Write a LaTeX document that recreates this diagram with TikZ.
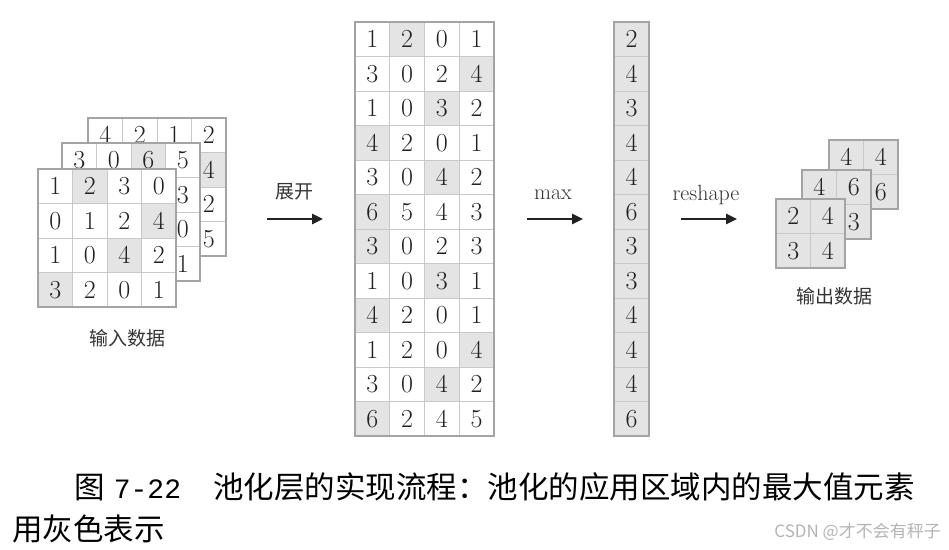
\documentclass[tikz,border=0pt]{standalone}
\usepackage{fontspec}
\newfontfamily\cjk{Noto Sans CJK SC}
\newfontfamily\capmono{Liberation Mono}
\usetikzlibrary{arrows.meta}
\definecolor{linegray}{HTML}{C8C8C8}
\definecolor{bordergray}{HTML}{A4A4A4}
\definecolor{hlgray}{HTML}{E4E4E4}
\definecolor{numcol}{HTML}{222222}
\definecolor{arrowcol}{HTML}{222222}
\definecolor{markgray}{HTML}{B4B4B4}
\definecolor{labcol}{HTML}{333333}
\newcommand\cellfont{\fontsize{26}{26}\selectfont}
\newcommand\drawgrid[5]{% #1 name, #2 x0, #3 y0, #4 last cell, #5 list r/c/v/fill
  \foreach \rw/\col/\v/\ff in {#5} {
    \node[cellbox,fill=\ff] (#1-\rw-\col) at ({#2+(\col-1)*34.5},{#3+(\rw-1)*34.5}) {\v};
  }
  \draw[gridborder] (#1-1-1.north west) rectangle (#1-#4.south east);
}
\begin{document}
\begin{tikzpicture}[x=1pt,y=-1pt,
  cellbox/.style={draw=linegray, line width=0.8pt, minimum width=34.5pt, minimum height=34.5pt,
    inner sep=0pt, outer sep=0pt, anchor=north west, font=\cellfont, text=numcol},
  gridborder/.style={draw=bordergray, line width=1.1pt},
  lab/.style={font=\cjk\fontsize{19}{19}\selectfont, text=labcol},
  arlab/.style={font=\fontsize{22}{22}\selectfont, text=labcol, anchor=base},
  bigarrow/.style={draw=arrowcol, line width=2.6pt, -{Triangle[length=11pt,width=10pt]}},
  captext/.style={font=\cjk\fontsize{30.5}{30.5}\selectfont, text=black, anchor=base west, inner sep=0pt}
]
\useasboundingbox (0,0) rectangle (949,549);

% ---------- input data (three stacked 4x4 grids) ----------
\drawgrid{inC}{88}{118}{4-4}{1/1/4/white,1/2/2/white,1/3/1/white,1/4/2/white,
  2/1/{}/white,2/2/{}/white,2/3/{}/white,2/4/4/hlgray,
  3/1/{}/white,3/2/{}/white,3/3/{}/white,3/4/2/white,
  4/1/{}/white,4/2/{}/white,4/3/{}/white,4/4/5/white}
\drawgrid{inB}{62}{143}{4-4}{1/1/3/white,1/2/0/white,1/3/6/hlgray,1/4/5/white,
  2/1/{}/white,2/2/{}/white,2/3/{}/white,2/4/3/white,
  3/1/{}/white,3/2/{}/white,3/3/{}/white,3/4/0/white,
  4/1/{}/white,4/2/{}/white,4/3/{}/white,4/4/1/white}
\drawgrid{inA}{38}{169}{4-4}{1/1/1/white,1/2/2/hlgray,1/3/3/white,1/4/0/white,
  2/1/0/white,2/2/1/white,2/3/2/white,2/4/4/hlgray,
  3/1/1/white,3/2/0/white,3/3/4/hlgray,3/4/2/white,
  4/1/3/hlgray,4/2/2/white,4/3/0/white,4/4/1/white}
\node[lab] (inlab) at (127,338) {输入数据};

% ---------- arrow: unfold ----------
\coordinate (a1s) at (267,219);
\coordinate (a1e) at (323,219);
\draw[bigarrow] (a1s) -- (a1e);
\node[lab, anchor=base] (l1) at (294,198) {展开};

% ---------- unfolded matrix 12x4 ----------
\foreach \rw/\va/\vb/\vc/\vd/\h in {1/1/2/0/1/2, 2/3/0/2/4/4, 3/1/0/3/2/3, 4/4/2/0/1/1,
    5/3/0/4/2/3, 6/6/5/4/3/1, 7/3/0/2/3/1, 8/1/0/3/1/3, 9/4/2/0/1/1, 10/1/2/0/4/4,
    11/3/0/4/2/3, 12/6/2/4/5/1} {
  \foreach \v [count=\col] in {\va,\vb,\vc,\vd} {
    \ifnum\col=\h\relax\def\ff{hlgray}\else\def\ff{white}\fi
    \node[cellbox, fill=\ff, minimum width=34.75pt] (m-\rw-\col) at ({355+(\col-1)*34.75},{22+(\rw-1)*34.5}) {\v};
  }
}
\draw[gridborder] (m-1-1.north west) rectangle (m-12-4.south east);

% ---------- arrow: max ----------
\coordinate (a2s) at (527,219);
\coordinate (a2e) at (583,219);
\draw[bigarrow] (a2s) -- (a2e);
\node[arlab] (l2) at (553,199) {max};

% ---------- max column ----------
\foreach \rw/\v in {1/2,2/4,3/3,4/4,5/4,6/6,7/3,8/3,9/4,10/4,11/4,12/6} {
  \node[cellbox, fill=hlgray, minimum width=35pt] (c-\rw) at (614,{22+(\rw-1)*34.5}) {\v};
}
\draw[gridborder] (c-1.north west) rectangle (c-12.south east);

% ---------- arrow: reshape ----------
\coordinate (a3s) at (681,219);
\coordinate (a3e) at (737,219);
\draw[bigarrow] (a3s) -- (a3e);
\node[arlab] (l3) at (706,200) {reshape};

% ---------- output data (three stacked 2x2 grids) ----------
\drawgrid{outC}{829}{140}{2-2}{1/1/4/hlgray,1/2/4/hlgray,2/1/{}/hlgray,2/2/6/hlgray}
\drawgrid{outB}{802}{170}{2-2}{1/1/4/hlgray,1/2/6/hlgray,2/1/{}/hlgray,2/2/3/hlgray}
\drawgrid{outA}{776}{199}{2-2}{1/1/2/hlgray,1/2/4/hlgray,2/1/3/hlgray,2/2/4/hlgray}
\node[lab] (outlab) at (834,296) {输出数据};

% ---------- caption ----------
\node[captext] (cap1) at (74,498) {图\hspace{0.3em}{\capmono\fontsize{28}{28}\selectfont 7-22}\hspace{1.05em}池化层的实现流程：池化的应用区域内的最大值元素};
\node[captext] (cap2) at (12,540) {用灰色表示};
\node[font=\cjk\fontsize{17}{17}\selectfont, text=markgray, anchor=east, inner sep=0pt] (wm) at (941,532) {CSDN @才不会有秤子};
\end{tikzpicture}
\end{document}
